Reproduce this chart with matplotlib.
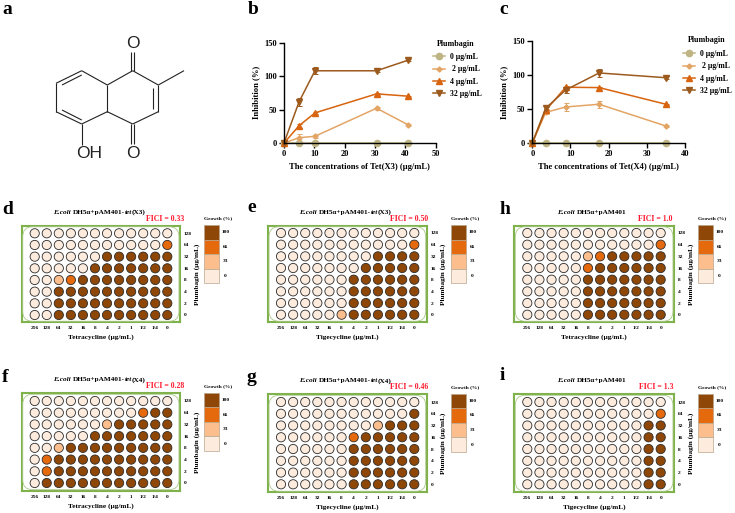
import matplotlib
matplotlib.use('Agg')
import matplotlib.pyplot as plt
from matplotlib.lines import Line2D
from matplotlib.patches import FancyBboxPatch, Rectangle

W, H = 735, 513
plt.rcParams['font.family'] = ['Liberation Serif', 'DejaVu Serif']
plt.rcParams['font.weight'] = 'bold'
plt.rcParams['axes.labelweight'] = 'bold'

# line chart data
plumbagin_labels = ['0 µg/mL', ' 2 µg/mL', '4 µg/mL', '32 µg/mL']
x3_conc = [0, 5, 10.2, 30.5, 41]
x3_inhib = [
    [0, 0, 0, 0, 0],
    [0, 8, 10, 52, 27],
    [0, 26, 45, 73.5, 70],
    [0, 62, 108, 108, 124],
]
x3_err = [
    [0, 0, 0, 0, 0],
    [0, 6, 2, 2, 1],
    [0, 3, 2, 1, 1],
    [0, 6, 5, 2, 1],
]
x4_conc = [0, 3.5, 8.75, 17.5, 35]
x4_inhib = [
    [0, 0, 0, 0, 0],
    [0, 45, 53, 57, 25],
    [0, 48, 82, 81.5, 57],
    [0, 51, 78, 103, 96],
]
x4_err = [
    [0, 0, 0, 0, 0],
    [0, 3, 6, 5, 1],
    [0, 2, 2, 1, 1],
    [0, 2, 5, 6, 2],
]
line_colors = ['#BFB584', '#E3A565', '#D8640F', '#9C5A1E']
line_markers = ['o', 'D', '^', 'v']
line_sizes = [4.5, 2.6, 3.8, 3.8]

# checkerboard plates, rows from 128 down to 0, columns 256 down to 0
# 0 = no growth, 1 = 33, 2 = 66, 3 = 100
plate_d = ['000000000000', '000000000002', '000000333333', '000003333333',
           '001233333333', '003333333333', '003333333333', '003333333333']
plate_e = ['000000000000', '000000000002', '000000003333', '000000033333',
           '000000333333', '000000333333', '000000333333', '000001333333']
plate_h = ['000000000000', '000000000002', '000001233333', '000002333333',
           '000003333333', '000003333333', '000003333333', '000003333333']
plate_f = ['000000000000', '000000000233', '000000133333', '000003333333',
           '001333333333', '023333333333', '023333333333', '033333333333']
plate_g = ['000000000000', '000000000003', '000000001333', '000000233333',
           '000000333333', '000000333333', '000000333333', '000000333333']
plate_i = ['000000000000', '000000000002', '000000000033', '000000000033',
           '000000000033', '000000000033', '000000000033', '000000000033']
tet_ticks = ['256', '128', '64', '32', '16', '8', '4', '2', '1', '1/2', '1/4', '0']
plumb_ticks = ['128', '64', '32', '16', '8', '4', '2', '0']
growth_labels = ['100', '66', '33', '0']
growth_colors = ['#FDEBDD', '#FDBE8D', '#E56A0E', '#8F4707']

# plate titles, pieces are (text, style)
title_x3 = [('E.coli', 'italic'), ('DH5α+pAM401-', 'normal'), ('tet', 'italic'), ('(X3)', 'normal')]
title_x4 = [('E.coli', 'italic'), ('DH5α+pAM401-', 'normal'), ('tet', 'italic'), ('(X4)', 'normal')]
title_wt = [('E.coli', 'italic'), ('DH5α+pAM401', 'normal')]

fig = plt.figure(figsize=(W / 100, H / 100), dpi=100)
renderer = fig.canvas.get_renderer()


def add_axes_px(x0, y0, x1, y1, **kw):
    # pixel box, y measured from the top of the picture
    return fig.add_axes([x0 / W, 1 - y1 / H, (x1 - x0) / W, (y1 - y0) / H], **kw)


# overlay in pixel coordinates for the labels and the structure
over = fig.add_axes([0, 0, 1, 1], zorder=5)
over.set_xlim(0, W)
over.set_ylim(H, 0)
over.axis('off')

for letter, lx, ly in [('a', 2, 10), ('b', 248, 10), ('c', 499, 10),
                       ('d', 2, 209), ('e', 247, 208), ('h', 500, 209),
                       ('f', 2, 378), ('g', 247, 377), ('i', 500, 376)]:
    over.text(lx, ly, letter, fontsize=14, ha='left', va='center')

# structure of plumbagin
bonds = [
    (81.7, 70.7, 107.3, 85), (107.3, 85, 107.3, 111.7), (107.3, 111.7, 81.7, 124),
    (81.7, 124, 56, 111.7), (56, 111.7, 56, 83.3), (56, 83.3, 81.7, 70.7),
    (62, 85, 81.7, 75), (62, 110, 81.7, 120),
    (107.3, 85, 132.7, 70.7), (132.7, 70.7, 158.3, 85), (158.3, 85, 158.3, 111.7),
    (158.3, 111.7, 132.7, 124), (132.7, 124, 107.3, 111.7),
    (152.7, 87.5, 152.7, 108.5), (158.3, 85, 184, 70.7),
    (131, 70.7, 131, 51.7), (134.5, 70.7, 134.5, 51.7),
    (131, 124, 131, 144), (134.5, 124, 134.5, 144),
    (81.7, 124, 81.7, 145),
]
for bx0, by0, bx1, by1 in bonds:
    over.plot([bx0, bx1], [by0, by1], color='#222222', lw=0.8, solid_capstyle='butt')
for label, tx, ty in [('O', 132.7, 43.5), ('O', 132.7, 153), ('OH', 89, 153)]:
    over.text(tx, ty, label, family='Liberation Sans', fontweight='normal',
              fontsize=12.5, ha='center', va='center', color='#222222')


def line_panel(box, conc, inhib, err, xlim, xticks, xlabel, legend_at, title_at):
    ax = add_axes_px(*box)
    handles = []
    for vals, errs, c, m, ms, lab in zip(inhib, err, line_colors, line_markers,
                                         line_sizes, plumbagin_labels):
        ax.errorbar(conc, vals, yerr=errs, color=c, marker=m, ms=ms, lw=1.1,
                    elinewidth=0.7, capsize=1.8, capthick=0.7, clip_on=False)
        handles.append(Line2D([], [], color=c, marker=m, ms=ms, lw=1.1, label=lab))
    ax.set_xlim(*xlim)
    ax.set_ylim(0, 150)
    ax.set_xticks(xticks)
    ax.set_yticks([0, 50, 100, 150])
    ax.spines[['top', 'right']].set_visible(False)
    ax.spines[['left', 'bottom']].set_linewidth(1.0)
    ax.tick_params(labelsize=6, width=1.0, length=3.5, pad=1.5)
    ax.set_xlabel(xlabel, fontsize=6.1, labelpad=3.5)
    ax.set_ylabel('Inhibition (%)', fontsize=6.2, labelpad=3)
    ax.patch.set_alpha(0)
    ax.legend(handles=handles, loc='upper left',
              bbox_to_anchor=(legend_at[0] / W, 1 - legend_at[1] / H),
              bbox_transform=fig.transFigure, frameon=False, fontsize=5.6,
              handlelength=1.6, handletextpad=0.55, labelspacing=0.55, borderpad=0,
              borderaxespad=0)
    over.text(title_at[0], title_at[1], 'Plumbagin', fontsize=5.8, ha='left', va='center')
    return ax


line_panel((284, 42.7, 435.7, 143), x3_conc, x3_inhib, x3_err, (0, 50), range(0, 51, 10),
           'The concentrations of Tet(X3) (µg/mL)', (433, 53), (437, 44))
line_panel((532.3, 41, 685, 143), x4_conc, x4_inhib, x4_err, (0, 40), range(0, 41, 10),
           'The concentrations of Tet(X4) (µg/mL)', (683, 50), (688, 40))


def mixed_title(parts, left_x, y, fontsize):
    # lays the pieces side by side, italic for the organism and gene names
    x = left_x
    for i, (piece, style) in enumerate(parts):
        t = over.text(x, y, piece, fontsize=fontsize, style=style, ha='left', va='center')
        x += t.get_window_extent(renderer).width
        if i == 0:
            x += 2.0


def plate_panel(frame, wells, grid, title, fici, xlabel, title_x, fici_x):
    fx0, fy0, fx1, fy1 = frame
    wx0, wy0, wx1, wy1 = wells
    ax = add_axes_px(fx0, fy0, fx1, fy1)
    sx = (wx1 - wx0) / 11
    sy = (wy1 - wy0) / 7
    ax.set_xlim((fx0 - wx0) / sx, (fx1 - wx0) / sx)
    ax.set_ylim((fy1 - wy0) / sy, (fy0 - wy0) / sy)
    xs, ys, cs = [], [], []
    for r, row in enumerate(grid):
        for c, v in enumerate(row):
            xs.append(c)
            ys.append(r)
            cs.append(growth_colors[int(v)])
    ax.scatter(xs, ys, s=44, c=cs, edgecolors='#2a2a2a', linewidths=0.6, zorder=3)
    over.add_patch(FancyBboxPatch((fx0 + 1, fy0 + 1), fx1 - fx0 - 2, fy1 - fy0 - 2,
                                  boxstyle='round,pad=0,rounding_size=10',
                                  fc='none', ec='#A9C98A', lw=0.6))
    for s in ax.spines.values():
        s.set_color('#7FB24A')
        s.set_linewidth(1.5)
    ax.set_xticks(range(12))
    ax.set_xticklabels(tet_ticks, fontsize=3.9)
    ax.yaxis.tick_right()
    ax.yaxis.set_label_position('right')
    ax.set_yticks(range(8))
    ax.set_yticklabels(plumb_ticks, fontsize=3.9)
    ax.tick_params(length=0, pad=2.8)
    ax.set_xlabel(xlabel, fontsize=5.2, labelpad=3)
    ax.set_ylabel('Plumbagin (µg/mL)', fontsize=5.2, rotation=90, labelpad=1.5)
    mixed_title(title, title_x, fy0 - 13.5, 5.25)
    over.text(fici_x, fy0 - 7, fici, fontsize=5.6, ha='center', va='center', color='#FF1A2E')
    # growth scale
    bx = fx1 + 24.5
    bh = 14.6
    over.text(bx + 14, fy0 - 7.5, 'Growth (%)', fontsize=3.9, ha='center', va='center')
    for i, (lab, col) in enumerate(zip(growth_labels, growth_colors[::-1])):
        over.add_patch(Rectangle((bx, fy0 - 0.7 + i * bh), 15, bh, fc=col, ec='#B9A58C', lw=0.5))
        over.text(bx + 21, fy0 - 0.7 + (i + 0.5) * bh, lab, fontsize=3.9, ha='center', va='center')


plate_panel((21.7, 225.7, 180, 322.3), (34.7, 233.3, 167.3, 315), plate_d,
            title_x3, 'FICI = 0.33', 'Tetracycline (µg/mL)', 53, 165)
plate_panel((268, 225.7, 426.7, 322.3), (281, 233, 414.3, 314.7), plate_e,
            title_x3, 'FICI = 0.50', 'Tigecycline (µg/mL)', 299, 409)
plate_panel((514.3, 225.7, 674, 322.3), (527.3, 233, 660.7, 314.7), plate_h,
            title_wt, 'FICI = 1.0', 'Tetracycline (µg/mL)', 557, 655)
plate_panel((21.7, 393.3, 180, 490.7), (34.7, 401, 167.3, 483), plate_f,
            title_x4, 'FICI = 0.28', 'Tetracycline (µg/mL)', 53, 165)
plate_panel((268, 394.3, 426.7, 492.3), (281, 402, 414.3, 484.3), plate_g,
            title_x4, 'FICI = 0.46', 'Tigecycline (µg/mL)', 299, 409)
plate_panel((514.3, 394.3, 674, 492.3), (527.3, 402, 660.7, 484.3), plate_i,
            title_wt, 'FICI = 1.3', 'Tigecycline (µg/mL)', 557, 656)

fig.savefig('out.png', dpi=100)
